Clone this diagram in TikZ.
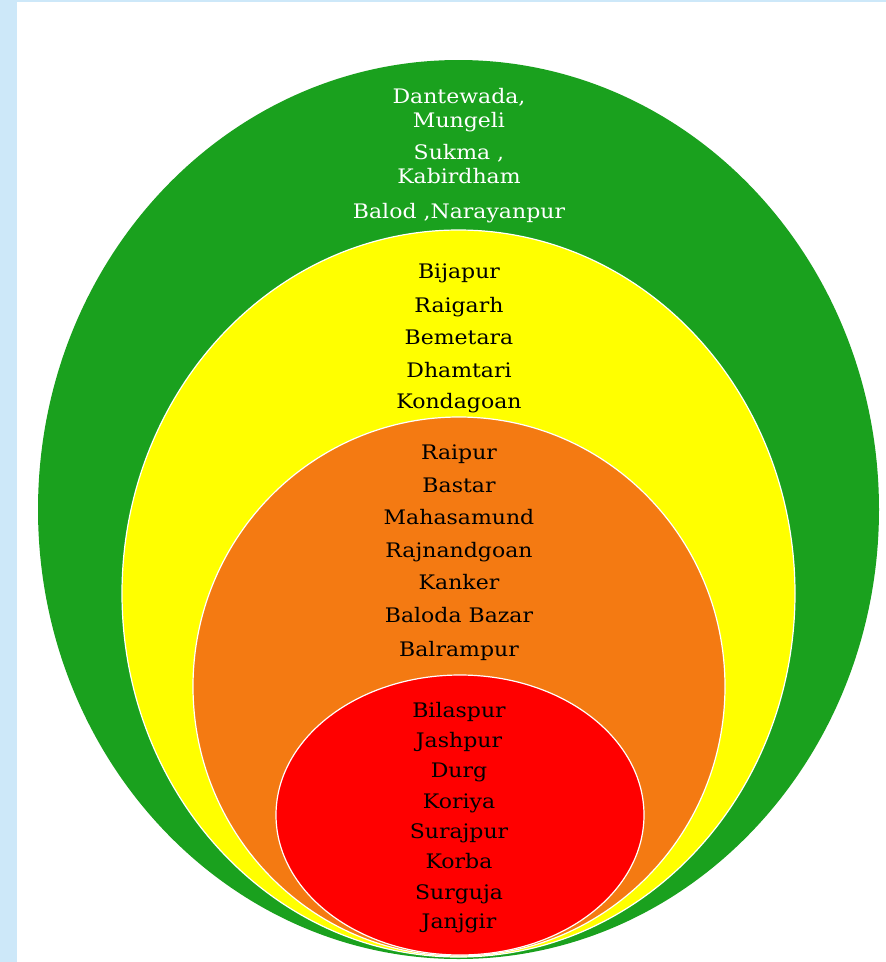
\documentclass[tikz,border=0pt]{standalone}
\usepackage{fontspec}
\setmainfont[FakeStretch=1.1]{DejaVu Serif}
\begin{document}
\definecolor{skyband}{HTML}{CDE8F9}
\definecolor{ringgreen}{HTML}{1AA11E}
\definecolor{ringyellow}{HTML}{FFFF00}
\definecolor{ringorange}{HTML}{F47A12}
\definecolor{ringred}{HTML}{FF0000}
\begin{tikzpicture}[x=1pt,y=-1pt,
  ring/.style={draw=white,line width=1.2pt},
  lbl/.style={anchor=base,inner sep=0pt,font=\fontsize{20}{24}\selectfont,align=center},
  lblw/.style={lbl,text=white},
  lblk/.style={lbl,text=black}]
% page background
\useasboundingbox (0,0) rectangle (886,962);
\fill[skyband] (0,0) rectangle (886,962);
\fill[white] (17,2) rectangle (886,962);
% nested rings, all resting on the same bottom point
\fill[ringgreen] (458.5,509.5) ellipse [x radius=420.5,y radius=449.5];
\filldraw[ring,fill=ringyellow] (458.5,593.5) ellipse [x radius=336.5,y radius=363.5];
\filldraw[ring,fill=ringorange] (459,686.5) ellipse [x radius=266,y radius=269.5];
\filldraw[ring,fill=ringred] (460,815) ellipse [x radius=184,y radius=140];
% outer ring labels (base anchor sits on the last line)
\node[lblw] (g1) at (459,127) {Dantewada,\\Mungeli};
\node[lblw] (g2) at (459,183) {Sukma ,\\Kabirdham};
\node[lblw] (g3) at (459,218) {Balod ,Narayanpur};
% second ring labels
\node[lblk] (y1) at (459,278) {Bijapur};
\node[lblk] (y2) at (459,312) {Raigarh};
\node[lblk] (y3) at (459,344) {Bemetara};
\node[lblk] (y4) at (459,377) {Dhamtari};
\node[lblk] (y5) at (459,408) {Kondagoan};
% third ring labels
\node[lblk] (o1) at (459,459) {Raipur};
\node[lblk] (o2) at (459,492) {Bastar};
\node[lblk] (o3) at (459,524) {Mahasamund};
\node[lblk] (o4) at (459,557) {Rajnandgoan};
\node[lblk] (o5) at (459,589) {Kanker};
\node[lblk] (o6) at (459,622) {Baloda Bazar};
\node[lblk] (o7) at (459,656) {Balrampur};
% core labels
\node[lblk] (r1) at (459,717) {Bilaspur};
\node[lblk] (r2) at (459,747) {Jashpur};
\node[lblk] (r3) at (459,777) {Durg};
\node[lblk] (r4) at (459,808) {Koriya};
\node[lblk] (r5) at (459,838) {Surajpur};
\node[lblk] (r6) at (459,868) {Korba};
\node[lblk] (r7) at (459,899) {Surguja};
\node[lblk] (r8) at (459,928) {Janjgir};
\end{tikzpicture}
\end{document}
